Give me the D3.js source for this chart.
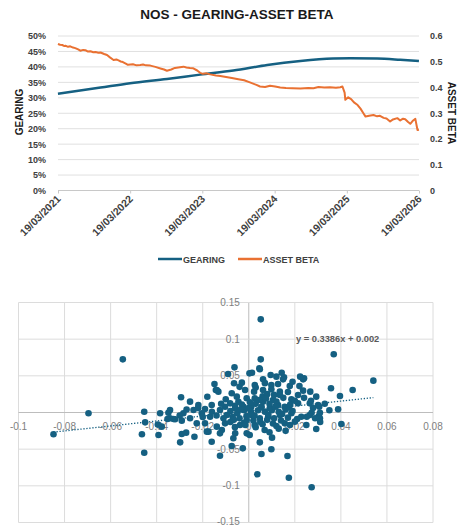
<!DOCTYPE html>
<html><head><meta charset="utf-8">
<script src="https://cdn.jsdelivr.net/npm/d3@7"></script>
<style>body{margin:0;background:#fff}svg{display:block;font-family:"Liberation Sans",Arial,sans-serif}</style>
</head><body><svg id="c" width="459" height="526"></svg>
<script>
const title = "NOS - GEARING-ASSET BETA";
const xTickLabels = ["19/03/2021","19/03/2022","19/03/2023","19/03/2024","19/03/2025","19/03/2026"];
const gearingTicks = [0,0.05,0.1,0.15,0.2,0.25,0.3,0.35,0.4,0.45,0.5];
const betaTicks = [0,0.1,0.2,0.3,0.4,0.5,0.6];
const gearingYears = [2021.21,2021.80,2022.21,2022.72,2023.18,2023.64,2024.11,2024.57,2025.02,2025.26,2025.63,2025.95,2026.21];
const gearingValues = [0.313,0.333,0.347,0.361,0.375,0.388,0.406,0.419,0.427,0.428,0.427,0.423,0.419];
const betaYears = [2021.21,2021.24,2021.27,2021.30,2021.32,2021.35,2021.38,2021.42,2021.45,2021.49,2021.52,2021.56,2021.59,2021.62,2021.66,2021.70,2021.73,2021.77,2021.80,2021.85,2021.89,2021.93,2021.98,2022.02,2022.05,2022.08,2022.11,2022.15,2022.18,2022.25,2022.30,2022.35,2022.39,2022.43,2022.49,2022.56,2022.63,2022.68,2022.72,2022.78,2022.83,2022.90,2022.95,2022.99,2023.04,2023.08,2023.14,2023.18,2023.22,2023.27,2023.32,2023.40,2023.46,2023.54,2023.62,2023.71,2023.79,2023.87,2023.96,2024.01,2024.08,2024.15,2024.22,2024.29,2024.37,2024.46,2024.57,2024.68,2024.75,2024.82,2024.90,2024.98,2025.06,2025.12,2025.15,2025.18,2025.19,2025.23,2025.27,2025.31,2025.36,2025.40,2025.44,2025.47,2025.52,2025.58,2025.63,2025.67,2025.72,2025.76,2025.81,2025.85,2025.91,2025.95,2025.99,2026.02,2026.06,2026.09,2026.13,2026.16,2026.19,2026.21];
const betaValues = [0.569,0.566,0.565,0.561,0.562,0.558,0.560,0.555,0.553,0.548,0.543,0.546,0.545,0.540,0.541,0.537,0.538,0.535,0.536,0.530,0.526,0.517,0.507,0.509,0.505,0.501,0.499,0.493,0.488,0.490,0.486,0.487,0.489,0.486,0.485,0.480,0.474,0.470,0.465,0.470,0.476,0.479,0.481,0.478,0.476,0.475,0.466,0.457,0.453,0.455,0.451,0.447,0.445,0.441,0.437,0.432,0.428,0.420,0.410,0.404,0.402,0.407,0.404,0.400,0.398,0.397,0.396,0.398,0.397,0.402,0.400,0.401,0.399,0.401,0.404,0.380,0.352,0.362,0.355,0.342,0.332,0.318,0.300,0.287,0.290,0.293,0.288,0.290,0.282,0.280,0.268,0.276,0.281,0.272,0.279,0.277,0.266,0.259,0.272,0.278,0.235,0.236];
const legendLabels = ["GEARING","ASSET BETA"];

const scatterX = [0.0052,-0.0547,0.0369,0.0052,0.0541,0.0357,0.0451,-0.0294,0.0396,-0.0149,-0.018,-0.0062,-0.009,0.0014,0.0046,0.0095,0.0143,0.0153,0.0223,0.024,-0.0255,-0.0143,-0.0132,-0.0064,-0.003,-0.0074,-0.0052,-0.0016,-0.0009,-0.0219,-0.0161,-0.019,-0.024,-0.0342,-0.0103,-0.0081,-0.0045,-0.0125,-0.0059,-0.0023,0.0003,0.0048,0.012,0.0149,0.0236,0.0062,0.0026,0.0098,0.0127,0.0178,0.0023,0.0062,0.0098,0.0135,0.0236,0.0267,0.0214,0.0293,0.0185,0.0265,0.0301,0.0214,0.0388,0.0156,0.0026,0.0062,0.0105,0.0127,0.0055,0.0091,0.0011,0.0279,-0.0392,-0.0378,-0.0342,-0.0291,-0.032,-0.0291,-0.0272,-0.0298,-0.0236,-0.0255,-0.0226,-0.019,-0.0175,-0.0161,-0.0139,-0.0117,-0.0059,-0.0067,-0.0074,-0.0026,-0.0125,-0.0103,-0.0038,-0.0009,-0.0168,-0.0204,-0.0349,-0.0385,-0.0284,-0.0095,0.0048,0.0101,0.0055,0.0098,0.0168,0.0037,0.0174,0.0293,0.0402,0.0265,0.0304,0.0004,0.0069,0.012,0.0026,0.0156,0.02,0.0084,0.0135,0.0185,0.0228,0.0048,0.0011,0.0273,-0.0454,-0.0464,-0.0454,-0.045,-0.0395,-0.0696,-0.0848,-0.0353,-0.0327,-0.0182,-0.0125,-0.0009,0.0288,0.0309,0.0252,0.0273,0.0309,0.0306,0.0179,-0.0139,
-0.008,-0.005,-0.002,0.001,0.004,0.007,0.010,0.013,0.016,0.019,-0.007,-0.004,0.002,0.005,0.008,0.011,0.014,0.017,0.021,-0.001,-0.006,-0.003,0.003,0.006,0.009,0.012,0.015,0.018,0.02,0.008,-0.011,-0.014,-0.016,-0.012,-0.01,-0.008,-0.006,-0.002,0.003,0.006,0.009,0.013,0.016,-0.02,-0.022,-0.027,-0.03,0.011,0.003,0.017,0.022,0.019,0.007,-0.004,0.024,0.027,0.033,0.035,0.031,0.025,
0.0,0.0025,0.0055,0.0085,0.0115,0.0145,-0.0035,-0.0065,0.0175,0.0005,0.0045,0.0105,-0.0015,0.0135,0.0075];
const scatterY = [0.127,0.0725,0.0794,0.0725,0.0434,0.033,0.0307,0.0207,0.0225,0.0389,0.0215,0.0616,0.0525,0.0543,0.0602,0.0511,0.0543,0.048,0.0489,0.0466,0.0148,0.0307,0.0284,0.0398,0.0407,0.0262,0.0216,0.0307,0.0194,0.0102,0.0102,0.0048,0.0034,0.0034,0.0079,0.0125,0.0147,0.0034,0.0057,0.0079,0.0534,0.0589,0.0489,0.0452,0.0452,0.0452,0.0375,0.0375,0.0389,0.0361,0.0284,0.0307,0.0316,0.0284,0.0298,0.0284,0.0239,0.0216,0.018,0.0125,0.0102,0.0125,0.0044,0.0079,0.0194,0.0147,0.017,0.0102,0.0079,0.0057,0.0079,0.0061,-0.0307,-0.0193,-0.0079,-0.0111,-0.0093,-0.0293,-0.0275,-0.0407,-0.033,-0.0079,-0.0148,-0.0148,-0.0261,-0.0398,-0.0193,-0.0239,-0.0284,-0.0352,-0.0457,-0.0489,-0.0589,-0.0148,-0.017,-0.0102,-0.0057,-0.0011,-0.0003,-0.0011,-0.0011,-0.0034,-0.0407,-0.0343,-0.0566,-0.0502,-0.0593,-0.0843,-0.0889,-0.0225,-0.0157,-0.0034,-0.0048,-0.0307,-0.0239,-0.0184,-0.017,-0.0148,-0.0125,-0.0057,-0.0034,-0.0011,-0.0057,-0.0079,-0.0034,-0.102,-0.0548,-0.0297,0.0011,-0.0134,-0.0165,-0.0011,-0.0297,-0.0089,-0.0089,-0.0261,-0.0284,-0.0284,-0.0079,-0.0079,-0.0057,-0.0003,-0.0003,0.0079,-0.017,0.0307,
0.002,-0.001,0.003,0.001,0.003,0.001,0.003,0.001,0.004,0.002,-0.006,-0.008,-0.011,-0.013,-0.01,-0.008,-0.011,-0.007,-0.009,-0.005,0.009,0.011,0.012,0.022,0.012,0.015,0.02,0.011,0.016,0.025,-0.008,-0.004,0.001,0.012,0.018,-0.013,-0.02,-0.014,-0.02,-0.016,-0.027,-0.022,-0.025,-0.006,0.006,0.004,-0.004,0.024,0.034,0.028,0.036,0.042,0.04,0.035,0.02,0.016,0.012,0.003,-0.013,-0.017,
0.006,-0.004,0.007,-0.003,0.008,-0.002,0.004,-0.01,0.007,0.014,0.017,-0.015,-0.017,0.024,0.019];
const scatterXTicks = [-0.1,-0.08,-0.06,-0.04,-0.02,0,0.02,0.04,0.06,0.08];
const scatterYTicks = [-0.15,-0.1,-0.05,0,0.05,0.1,0.15];
const trendSlope = 0.3386, trendIntercept = 0.002;
const trendLabel = "y = 0.3386x + 0.002";

const BLUE = "#156082", ORANGE = "#E97132";
const svg = d3.select("#c");
const yearToDate = y => new Date(Date.UTC(Math.floor(y),0,1) + (y - Math.floor(y)) * 365.25 * 864e5);

// ---------- Top chart ----------
svg.append("text").attr("x",237).attr("y",19).attr("text-anchor","middle")
  .attr("font-weight","bold").attr("font-size",13.5).attr("fill","#1a1a1a").text(title);

const x1 = d3.scaleTime().domain([new Date(Date.UTC(2021,2,19)), new Date(Date.UTC(2026,2,19))]).range([58,419]);
const yL = d3.scaleLinear().domain([0,0.5]).range([190.5,36]);
const yR = d3.scaleLinear().domain([0,0.6]).range([190.5,36]);

const g1 = svg.append("g");
g1.selectAll("line.gr").data(gearingTicks).join("line")
  .attr("x1",58).attr("x2",419).attr("y1",d=>yL(d)).attr("y2",d=>yL(d))
  .attr("stroke",d=>d===0?"#c8c8c8":"#e0e0e0").attr("stroke-width",1);

const xTickDates = xTickLabels.map(s=>{const [d,m,y]=s.split("/").map(Number);return new Date(Date.UTC(y,m-1,d));});
const ax = d3.axisBottom(x1).tickValues(xTickDates).tickSize(3).tickFormat((d,i)=>xTickLabels[i]);
const gx = g1.append("g").attr("transform","translate(0,190.5)").call(ax);
gx.select(".domain").remove();
gx.selectAll(".tick line").attr("stroke","#c8c8c8");
gx.selectAll(".tick text").attr("font-size",10.5).attr("font-weight","bold").attr("fill","#404040")
  .attr("font-family","'Liberation Sans',Arial,sans-serif")
  .attr("text-anchor","end").attr("dy",0).attr("y",0)
  .attr("transform","translate(3,9) rotate(-45)");

const al = d3.axisLeft(yL).tickValues(gearingTicks).tickSize(0).tickFormat(d3.format(".0%"));
const gl = g1.append("g").attr("transform","translate(49,0)").call(al);
gl.select(".domain").remove();
gl.selectAll("text").attr("font-size",9).attr("font-weight","bold").attr("fill","#404040").attr("font-family","'Liberation Sans',Arial,sans-serif");

const ar = d3.axisRight(yR).tickValues(betaTicks).tickSize(0).tickFormat(d=>d===0?"0":d3.format(".1f")(d));
const gr = g1.append("g").attr("transform","translate(427,0)").call(ar);
gr.select(".domain").remove();
gr.selectAll("text").attr("font-size",9).attr("font-weight","bold").attr("fill","#404040").attr("font-family","'Liberation Sans',Arial,sans-serif");

svg.append("text").attr("transform","translate(23,112) rotate(-90)").attr("text-anchor","middle")
  .attr("font-size",10).attr("font-weight","bold").attr("fill","#1a1a1a").text("GEARING");
svg.append("text").attr("transform","translate(448,113) rotate(90)").attr("text-anchor","middle")
  .attr("font-size",10).attr("font-weight","bold").attr("fill","#1a1a1a").text("ASSET BETA");

const gear = gearingYears.map((y,i)=>({d:yearToDate(y),v:gearingValues[i]}));
const beta = betaYears.map((y,i)=>({d:yearToDate(y),v:betaValues[i]}));
g1.append("path").datum(gear).attr("fill","none").attr("stroke",BLUE).attr("stroke-width",2.5)
  .attr("d",d3.line().x(d=>x1(d.d)).y(d=>yL(d.v)).curve(d3.curveMonotoneX));
g1.append("path").datum(beta).attr("fill","none").attr("stroke",ORANGE).attr("stroke-width",2)
  .attr("stroke-linejoin","round")
  .attr("d",d3.line().x(d=>x1(d.d)).y(d=>yR(d.v)));

// legend
const lg = svg.append("g");
[[158,BLUE,legendLabels[0]],[238,ORANGE,legendLabels[1]]].forEach(([lx,c,t])=>{
  lg.append("line").attr("x1",lx).attr("x2",lx+24).attr("y1",259).attr("y2",259).attr("stroke",c).attr("stroke-width",2.5);
  lg.append("text").attr("x",lx+25).attr("y",262.5).attr("font-size",9).attr("font-weight","bold").attr("fill","#404040").text(t);
});

// ---------- Scatter ----------
const xs = d3.scaleLinear().domain([-0.1,0.08]).range([18.5,433]);
const ys = d3.scaleLinear().domain([-0.15,0.15]).range([522.5,302.5]);
const g2 = svg.append("g");
g2.selectAll("line.vx").data(scatterXTicks).join("line")
  .attr("x1",d=>xs(d)).attr("x2",d=>xs(d)).attr("y1",ys(0.15)).attr("y2",ys(-0.15))
  .attr("stroke",d=>d===0?"#bdbdbd":"#dcdcdc").attr("stroke-width",1);
g2.selectAll("line.hy").data(scatterYTicks).join("line")
  .attr("x1",xs(-0.1)).attr("x2",xs(0.08)).attr("y1",d=>ys(d)).attr("y2",d=>ys(d))
  .attr("stroke",d=>d===0?"#bdbdbd":"#dcdcdc").attr("stroke-width",1);

const fmt = d => d===0?"0":String(+d.toFixed(2));
g2.selectAll("text.xl").data(scatterXTicks).join("text")
  .attr("x",d=>xs(d)).attr("y",ys(0)+17).attr("text-anchor","middle")
  .attr("font-size",10).attr("fill","#808080").text(fmt);
g2.selectAll("text.yl").data(scatterYTicks).join("text")
  .attr("x",xs(0)-9).attr("y",d=>Math.min(ys(d)+3.5,524.5)).attr("text-anchor","end")
  .attr("font-size",10).attr("fill","#808080").text(fmt);

const pts = scatterX.map((x,i)=>({x, y:scatterY[i]}));
g2.selectAll("circle").data(pts).join("circle")
  .attr("cx",d=>xs(d.x)).attr("cy",d=>ys(d.y)).attr("r",3.3).attr("fill",BLUE);

const xmin = d3.min(scatterX), xmax = d3.max(scatterX);
g2.append("line").attr("x1",xs(xmin)).attr("x2",xs(xmax))
  .attr("y1",ys(trendSlope*xmin+trendIntercept)).attr("y2",ys(trendSlope*xmax+trendIntercept))
  .attr("stroke",BLUE).attr("stroke-width",1.3).attr("stroke-dasharray","1.3,1.7");
g2.append("text").attr("x",296).attr("y",341.5).attr("font-size",9.3).attr("font-weight","bold")
  .attr("fill","#595959").text(trendLabel);
</script></body></html>
